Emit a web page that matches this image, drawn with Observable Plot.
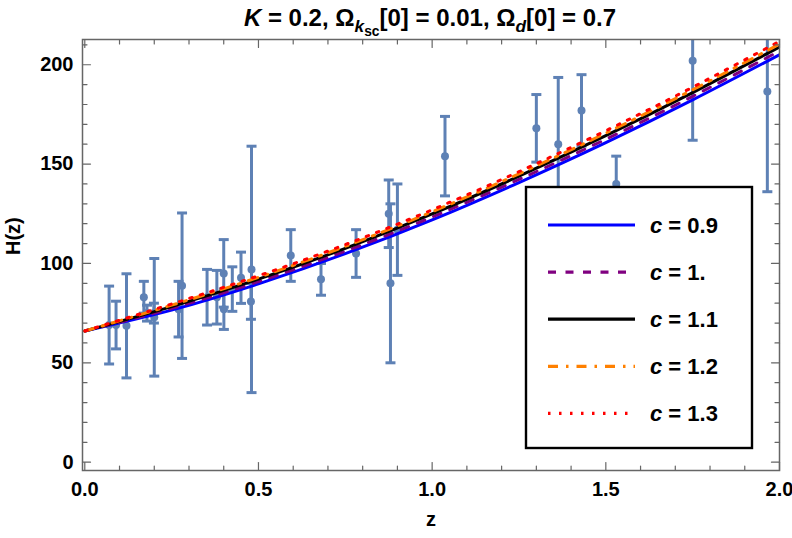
<!DOCTYPE html>
<html><head><meta charset="utf-8">
<script src="https://cdn.jsdelivr.net/npm/d3@7"></script>
<script src="https://cdn.jsdelivr.net/npm/@observablehq/plot@0.6"></script>
<style>
body{margin:0;background:#fff;}
#wrap{position:relative;width:792px;height:538px;font-family:"Liberation Sans",Arial,sans-serif;}
#title{position:absolute;left:0;width:860px;top:6px;text-align:center;font-size:24px;font-weight:bold;line-height:1;white-space:nowrap;color:#000;}
#title sub{font-size:0.72em;vertical-align:-0.32em;line-height:0;}
#title sub sub{font-size:0.8em;vertical-align:-0.3em;}
#chart{position:absolute;left:0;top:0;}
#legend{position:absolute;left:0;top:0;}
</style></head><body>
<div id="wrap">
<div id="chart"></div>
<div id="title"><i>K</i> = 0.2, Ω<sub><i>k</i><sub>sc</sub></sub>[0] = 0.01, Ω<sub><i>d</i></sub>[0] = 0.7</div>
<div id="legend"></div>
</div>
<script>
// Observational H(z) data
const zData = [0.07,0.09,0.12,0.17,0.179,0.199,0.2,0.27,0.28,0.352,0.3802,0.4,0.4004,0.4247,0.4497,0.4783,0.48,0.593,0.68,0.781,0.875,0.88,0.9,1.037,1.3,1.363,1.43,1.53,1.75,1.965];
const hData = [69,69,68.6,83,75,75,72.9,77,88.8,83,83,95,77,87.1,92.8,80.9,97,104,92,105,125,90,117,154,168,160,177,140,202,186.5];
const sData = [19.6,12,26.2,8,4,5,29.6,14,36.6,14,13.5,17,10.2,11.2,12.9,9,62,13,8,12,17,40,23,20,17,33.6,18,14,40,50.4];

// Model curves
const curveZ = [0,0.25,0.5,0.75,1,1.25,1.5,1.75,2];
const hC09 = [66,76.5,89.7,104.9,121.9,140.7,160.8,182.3,205.0];
const hC10 = [66,77.4,90.9,106.2,123.4,142.3,162.5,184.1,206.9];
const hC11 = [66,78.3,92.1,107.6,124.9,143.9,164.3,186.0,208.9];
const hC12 = [66,79.0,93.0,108.6,126.0,145.1,165.6,187.4,210.4];
const hC13 = [66,79.6,93.8,109.5,127.0,146.2,166.8,188.7,211.8];
const seriesLabels = ["0.9","1.","1.1","1.2","1.3"];
const seriesColors = ["#0000ff","#800080","#000000","#ff8000","#ff0000"];
const seriesDash = [null,"8,9.5","","10,8,2.5,8","2.5,8.5"];
const seriesValues = [hC09,hC10,hC11,hC12,hC13];

// Axis ticks
const xTicks = [0,0.5,1,1.5,2];
const xMinor = [0.1,0.2,0.3,0.4,0.6,0.7,0.8,0.9,1.1,1.2,1.3,1.4,1.6,1.7,1.8,1.9];
const yTicks = [0,50,100,150,200];
const yMinor = [10,20,30,40,60,70,80,90,110,120,130,140,160,170,180,190,210];

const dataColor = "#5e81b5";
const frameColor = "#666666";

const obs = zData.map((z,i)=>({z, H:hData[i], s:sData[i]}));
const curveRows = [];
seriesValues.forEach((arr,k)=>arr.forEach((h,i)=>curveRows.push({z:curveZ[i], H:h, c:seriesLabels[k]})));

const capSymbol = {draw(ctx){ctx.moveTo(-5,0);ctx.lineTo(5,0);}};
const tickShape = {draw(ctx,l){ctx.moveTo(0,0);ctx.lineTo(0,-l);}};

function tickMarks(values, dim, len){
  const o = {length:len, anchor:"start", shape:tickShape, stroke:frameColor, strokeWidth:1.2};
  if (dim === "x") return [
    Plot.vector(values,{x:d=>d, frameAnchor:"bottom", rotate:0, ...o}),
    Plot.vector(values,{x:d=>d, frameAnchor:"top", rotate:180, ...o})
  ];
  return [
    Plot.vector(values,{y:d=>d, frameAnchor:"left", rotate:90, ...o}),
    Plot.vector(values,{y:d=>d, frameAnchor:"right", rotate:-90, ...o})
  ];
}

const curveMarks = seriesLabels.map((lab,k)=>Plot.line(curveRows.filter(r=>r.c===lab),{
  x:"z", y:"H", stroke:seriesColors[k], strokeWidth:3, curve:"natural", clip:true,
  strokeDasharray: seriesDash[k] || undefined
}));

const chart = Plot.plot({
  width:792, height:538,
  marginLeft:82, marginRight:13, marginTop:39, marginBottom:68,
  x:{domain:[-0.0066,2.0]},
  y:{domain:[-4.2,212.7]},
  style:{fontFamily:'"Liberation Sans",Arial,sans-serif', fontSize:"20px", fontWeight:"bold", color:"#000", background:"#fff"},
  marks:[
    Plot.ruleX(obs,{x:"z", y1:d=>d.H-d.s, y2:d=>d.H+d.s, stroke:dataColor, strokeWidth:3, clip:true}),
    Plot.dot(obs,{x:"z", y:d=>d.H-d.s, symbol:capSymbol, fill:"none", stroke:dataColor, strokeWidth:3, clip:true}),
    Plot.dot(obs,{x:"z", y:d=>d.H+d.s, symbol:capSymbol, fill:"none", stroke:dataColor, strokeWidth:3, clip:true}),
    Plot.dot(obs,{x:"z", y:"H", r:4, fill:dataColor, stroke:null}),
    ...curveMarks,
    Plot.frame({stroke:frameColor, strokeWidth:1.5}),
    ...tickMarks(xTicks,"x",8),
    ...tickMarks(xMinor,"x",4.5),
    ...tickMarks(yTicks,"y",8),
    ...tickMarks(yMinor,"y",4.5),
    Plot.axisX({ticks:xTicks, tickSize:0, tickPadding:11, tickFormat:d3.format(".1f"), label:null, fill:"#000"}),
    Plot.axisY({ticks:yTicks, tickSize:0, tickPadding:9, label:null, fill:"#000"}),
    Plot.text(["z"],{frameAnchor:"bottom", dy:55, text:d=>d, fill:"#000"}),
    Plot.text(["H(z)"],{frameAnchor:"left", dx:-69, rotate:-90, text:d=>d, fill:"#000"})
  ]
});
document.getElementById("chart").appendChild(chart);

// Legend
const L = {x:526, y:187, w:226, h:261};
const lg = d3.select("#legend").append("svg").attr("width",792).attr("height",538)
  .style("position","absolute").style("left","0px").style("top","0px").style("pointer-events","none");
lg.append("rect").attr("x",L.x).attr("y",L.y).attr("width",L.w).attr("height",L.h)
  .attr("fill","#fff").attr("stroke","#000").attr("stroke-width",2.4);
seriesLabels.forEach((lab,k)=>{
  const cy = L.y + 38 + k*47.1;
  lg.append("line").attr("x1",L.x+22).attr("x2",L.x+109).attr("y1",cy).attr("y2",cy)
    .attr("stroke",seriesColors[k]).attr("stroke-width",3.2)
    .attr("stroke-dasharray",seriesDash[k]||null);
  const t = lg.append("text").attr("x",L.x+124).attr("y",cy+8)
    .style("font-family",'"Liberation Sans",Arial,sans-serif').style("font-size","22px").style("font-weight","bold");
  t.append("tspan").style("font-style","italic").text("c");
  t.append("tspan").text(" = " + lab);
});
</script>
</body></html>
